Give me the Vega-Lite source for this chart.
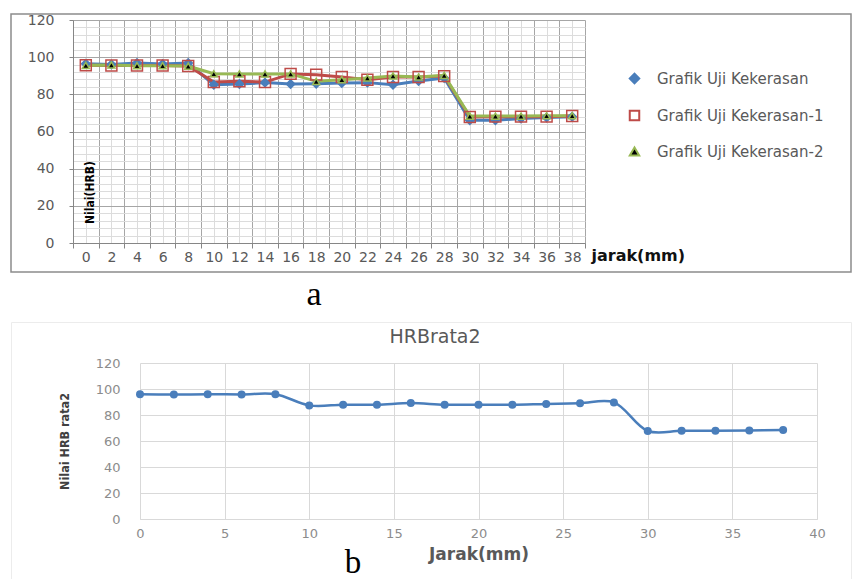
{
  "$schema": "https://vega.github.io/schema/vega-lite/v6.json",
  "padding": {"left": 10, "top": 12, "right": 0, "bottom": 0},
  "background": "white",
  "bounds": "flush",
  "spacing": 50,
  "title": {"text": "b", "orient": "bottom", "anchor": "middle", "font": "Liberation Serif", "fontSize": 33, "fontWeight": "normal", "color": "#000000", "baseline": "alphabetic", "offset": -8, "dx": -78},
  "datasets": {
    "uji": [
      {"jarak": 0, "seri": "Grafik Uji Kekerasan", "nilai": 96.5},
      {"jarak": 2, "seri": "Grafik Uji Kekerasan", "nilai": 96},
      {"jarak": 4, "seri": "Grafik Uji Kekerasan", "nilai": 96.8},
      {"jarak": 6, "seri": "Grafik Uji Kekerasan", "nilai": 96.3},
      {"jarak": 8, "seri": "Grafik Uji Kekerasan", "nilai": 96.8},
      {"jarak": 10, "seri": "Grafik Uji Kekerasan", "nilai": 85.2},
      {"jarak": 12, "seri": "Grafik Uji Kekerasan", "nilai": 85.5},
      {"jarak": 14, "seri": "Grafik Uji Kekerasan", "nilai": 86.3},
      {"jarak": 16, "seri": "Grafik Uji Kekerasan", "nilai": 85.6},
      {"jarak": 18, "seri": "Grafik Uji Kekerasan", "nilai": 85.7},
      {"jarak": 20, "seri": "Grafik Uji Kekerasan", "nilai": 86.1},
      {"jarak": 22, "seri": "Grafik Uji Kekerasan", "nilai": 86.3},
      {"jarak": 24, "seri": "Grafik Uji Kekerasan", "nilai": 85.2},
      {"jarak": 26, "seri": "Grafik Uji Kekerasan", "nilai": 87.2},
      {"jarak": 28, "seri": "Grafik Uji Kekerasan", "nilai": 88.8},
      {"jarak": 30, "seri": "Grafik Uji Kekerasan", "nilai": 66},
      {"jarak": 32, "seri": "Grafik Uji Kekerasan", "nilai": 66},
      {"jarak": 34, "seri": "Grafik Uji Kekerasan", "nilai": 67},
      {"jarak": 36, "seri": "Grafik Uji Kekerasan", "nilai": 67.5},
      {"jarak": 38, "seri": "Grafik Uji Kekerasan", "nilai": 68},
      {"jarak": 0, "seri": "Grafik Uji Kekerasan-1", "nilai": 95.6},
      {"jarak": 2, "seri": "Grafik Uji Kekerasan-1", "nilai": 95.5},
      {"jarak": 4, "seri": "Grafik Uji Kekerasan-1", "nilai": 95.5},
      {"jarak": 6, "seri": "Grafik Uji Kekerasan-1", "nilai": 95.5},
      {"jarak": 8, "seri": "Grafik Uji Kekerasan-1", "nilai": 95.3},
      {"jarak": 10, "seri": "Grafik Uji Kekerasan-1", "nilai": 86.6},
      {"jarak": 12, "seri": "Grafik Uji Kekerasan-1", "nilai": 87},
      {"jarak": 14, "seri": "Grafik Uji Kekerasan-1", "nilai": 86.6},
      {"jarak": 16, "seri": "Grafik Uji Kekerasan-1", "nilai": 91},
      {"jarak": 18, "seri": "Grafik Uji Kekerasan-1", "nilai": 90.6},
      {"jarak": 20, "seri": "Grafik Uji Kekerasan-1", "nilai": 89.3},
      {"jarak": 22, "seri": "Grafik Uji Kekerasan-1", "nilai": 87.9},
      {"jarak": 24, "seri": "Grafik Uji Kekerasan-1", "nilai": 89.3},
      {"jarak": 26, "seri": "Grafik Uji Kekerasan-1", "nilai": 89.3},
      {"jarak": 28, "seri": "Grafik Uji Kekerasan-1", "nilai": 89.8},
      {"jarak": 30, "seri": "Grafik Uji Kekerasan-1", "nilai": 67.8},
      {"jarak": 32, "seri": "Grafik Uji Kekerasan-1", "nilai": 68},
      {"jarak": 34, "seri": "Grafik Uji Kekerasan-1", "nilai": 68},
      {"jarak": 36, "seri": "Grafik Uji Kekerasan-1", "nilai": 68},
      {"jarak": 38, "seri": "Grafik Uji Kekerasan-1", "nilai": 68.3},
      {"jarak": 0, "seri": "Grafik Uji Kekerasan-2", "nilai": 95.6},
      {"jarak": 2, "seri": "Grafik Uji Kekerasan-2", "nilai": 95.8},
      {"jarak": 4, "seri": "Grafik Uji Kekerasan-2", "nilai": 95.4},
      {"jarak": 6, "seri": "Grafik Uji Kekerasan-2", "nilai": 95.4},
      {"jarak": 8, "seri": "Grafik Uji Kekerasan-2", "nilai": 95.2},
      {"jarak": 10, "seri": "Grafik Uji Kekerasan-2", "nilai": 91.1},
      {"jarak": 12, "seri": "Grafik Uji Kekerasan-2", "nilai": 91},
      {"jarak": 14, "seri": "Grafik Uji Kekerasan-2", "nilai": 91},
      {"jarak": 16, "seri": "Grafik Uji Kekerasan-2", "nilai": 91},
      {"jarak": 18, "seri": "Grafik Uji Kekerasan-2", "nilai": 87},
      {"jarak": 20, "seri": "Grafik Uji Kekerasan-2", "nilai": 87.9},
      {"jarak": 22, "seri": "Grafik Uji Kekerasan-2", "nilai": 88.8},
      {"jarak": 24, "seri": "Grafik Uji Kekerasan-2", "nilai": 89.9},
      {"jarak": 26, "seri": "Grafik Uji Kekerasan-2", "nilai": 89.3},
      {"jarak": 28, "seri": "Grafik Uji Kekerasan-2", "nilai": 90.2},
      {"jarak": 30, "seri": "Grafik Uji Kekerasan-2", "nilai": 68.3},
      {"jarak": 32, "seri": "Grafik Uji Kekerasan-2", "nilai": 68.3},
      {"jarak": 34, "seri": "Grafik Uji Kekerasan-2", "nilai": 68.3},
      {"jarak": 36, "seri": "Grafik Uji Kekerasan-2", "nilai": 68.5},
      {"jarak": 38, "seri": "Grafik Uji Kekerasan-2", "nilai": 68.5}
    ],
    "rata": [
      {"jarak": 0, "rata": 95.9},
      {"jarak": 2, "rata": 95.7},
      {"jarak": 4, "rata": 96},
      {"jarak": 6, "rata": 95.8},
      {"jarak": 8, "rata": 96},
      {"jarak": 10, "rata": 87.4},
      {"jarak": 12, "rata": 87.9},
      {"jarak": 14, "rata": 87.9},
      {"jarak": 16, "rata": 89.2},
      {"jarak": 18, "rata": 87.9},
      {"jarak": 20, "rata": 87.9},
      {"jarak": 22, "rata": 87.9},
      {"jarak": 24, "rata": 88.5},
      {"jarak": 26, "rata": 89},
      {"jarak": 28, "rata": 89.7},
      {"jarak": 30, "rata": 67.7},
      {"jarak": 32, "rata": 67.9},
      {"jarak": 34, "rata": 67.9},
      {"jarak": 36, "rata": 68},
      {"jarak": 38, "rata": 68.5}
    ]
  },
  "vconcat": [
    {
      "width": 840,
      "height": 258,
      "view": {"stroke": "#8c8c8c", "strokeWidth": 1.5},
      "title": {"text": "a", "orient": "bottom", "anchor": "middle", "frame": "group", "font": "Liberation Serif", "fontSize": 34, "fontWeight": "normal", "color": "#000000", "baseline": "alphabetic", "offset": 33, "dx": -117},
      "data": {"name": "uji"},
      "resolve": {"axis": {"x": "independent"}},
      "encoding": {
        "y": {
          "field": "nilai", "type": "quantitative",
          "scale": {"domain": [0, 120], "range": [229, 6], "nice": false},
          "axis": {
            "offset": -62,
            "values": [0,4,8,12,16,20,24,28,32,36,40,44,48,52,56,60,64,68,72,76,80,84,88,92,96,100,104,108,112,116,120],
            "grid": true,
            "gridColor": {"condition": {"test": "datum.value % 20 === 0", "value": "#a6a6a6"}, "value": "#dcdcdc"},
            "domain": true, "domainColor": "#868686",
            "ticks": true, "tickSize": 4, "tickColor": "#868686",
            "tickOpacity": {"condition": {"test": "datum.value % 20 === 0", "value": 1}, "value": 0},
            "labelExpr": "datum.value % 20 === 0 ? datum.label : ''",
            "labelFont": "DejaVu Sans", "labelFontSize": 14, "labelColor": "#595959",
            "labelPadding": 15, "labelOverlap": false, "labelFlush": false,
            "title": "Nilai(HRB)", "titleFont": "Liberation Sans Narrow, DejaVu Sans Condensed, sans-serif", "titleFontWeight": "bold", "titleFontSize": 12, "titleColor": "#000000",
            "titleX": 16, "titleY": 178, "titleAngle": 270, "titleBaseline": "middle", "titleAlign": "center"
          }
        }
      },
      "layer": [
        {
          "mark": {"type": "line", "strokeWidth": 3},
          "encoding": {
            "x": {
              "field": "jarak", "type": "quantitative",
              "scale": {"domain": [-1, 39], "range": [62, 574], "nice": false, "zero": false},
              "axis": {
                "orient": "top",
                "values": [-1,0,1,2,3,4,5,6,7,8,9,10,11,12,13,14,15,16,17,18,19,20,21,22,23,24,25,26,27,28,29,30,31,32,33,34,35,36,37,38,39],
                "grid": true,
                "gridColor": {"condition": {"test": "datum.value % 2 !== 0", "value": "#a6a6a6"}, "value": "#dcdcdc"},
                "domain": false, "ticks": false, "labels": false, "title": null
              }
            },
            "detail": {"field": "seri", "type": "nominal"},
            "color": {
              "condition": [
                {"test": "datum.seri === 'Grafik Uji Kekerasan'", "value": "#4A7EBB"},
                {"test": "datum.seri === 'Grafik Uji Kekerasan-1'", "value": "#BE4B48"}
              ],
              "value": "#98B954"
            }
          }
        },
        {
          "mark": {"type": "point", "opacity": 1, "strokeWidth": 1.5},
          "encoding": {
            "x": {
              "field": "jarak", "type": "quantitative",
              "axis": {
                "orient": "bottom",
                "offset": -29,
                "values": [-1,0,1,2,3,4,5,6,7,8,9,10,11,12,13,14,15,16,17,18,19,20,21,22,23,24,25,26,27,28,29,30,31,32,33,34,35,36,37,38,39],
                "grid": false,
                "domain": true, "domainColor": "#868686", "domainWidth": 1,
                "ticks": true, "tickSize": 5, "tickColor": "#868686",
                "tickOpacity": {"condition": {"test": "datum.value % 2 !== 0", "value": 1}, "value": 0},
                "labelExpr": "datum.value % 2 === 0 ? datum.label : ''",
                "labelFont": "DejaVu Sans", "labelFontSize": 14, "labelColor": "#595959",
                "labelPadding": 2, "labelFlush": false, "labelOverlap": false,
                "title": "jarak(mm)", "titleFont": "DejaVu Sans", "titleFontWeight": "bold", "titleFontSize": 16, "titleColor": "#111111",
                "titleX": 580, "titleY": 12, "titleAlign": "left", "titleBaseline": "middle", "titleAngle": 0
              }
            },
            "shape": {
              "field": "seri", "type": "nominal",
              "scale": {"range": ["diamond", "square", "triangle-up"]},
              "legend": {
                "title": null, "orient": "none", "direction": "vertical",
                "legendX": 616, "legendY": 57, "padding": 0,
                "symbolSize": 90, "symbolStrokeWidth": 2,
                "labelOffset": 15, "rowPadding": 18, "labelLimit": 300,
                "labelFont": "DejaVu Sans", "labelFontSize": 15, "labelColor": "#595959"
              }
            },
            "fill": {
              "field": "seri", "type": "nominal",
              "scale": {"range": ["#4A7EBB", "transparent", "#000000"]},
              "legend": {
                "title": null, "orient": "none", "direction": "vertical",
                "legendX": 616, "legendY": 57, "padding": 0,
                "symbolSize": 90, "symbolStrokeWidth": 2,
                "labelOffset": 15, "rowPadding": 18, "labelLimit": 300,
                "labelFont": "DejaVu Sans", "labelFontSize": 15, "labelColor": "#595959"
              }
            },
            "stroke": {
              "field": "seri", "type": "nominal",
              "scale": {"range": ["#4A7EBB", "#BE4B48", "#98B954"]},
              "legend": {
                "title": null, "orient": "none", "direction": "vertical",
                "legendX": 616, "legendY": 57, "padding": 0,
                "symbolSize": 90, "symbolStrokeWidth": 2,
                "labelOffset": 15, "rowPadding": 18, "labelLimit": 300,
                "labelFont": "DejaVu Sans", "labelFontSize": 15, "labelColor": "#595959"
              }
            },
            "size": {
              "condition": [
                {"test": "datum.seri === 'Grafik Uji Kekerasan'", "value": 70},
                {"test": "datum.seri === 'Grafik Uji Kekerasan-1'", "value": 120}
              ],
              "value": 50
            }
          }
        }
      ]
    },
    {
      "width": 840,
      "height": 258,
      "view": {"stroke": "#ececec", "strokeWidth": 1},
      "title": {"text": "HRBrata2", "orient": "top", "anchor": "middle", "frame": "group", "offset": -22, "dx": 4, "dy": 18, "font": "DejaVu Sans", "fontSize": 19, "fontWeight": "normal", "color": "#595959", "baseline": "alphabetic"},
      "data": {"name": "rata"},
      "resolve": {"axis": {"x": "independent"}},
      "encoding": {
        "y": {
          "field": "rata", "type": "quantitative",
          "scale": {"domain": [0, 120], "range": [197, 41], "nice": false},
          "axis": {
            "offset": -129,
            "values": [0, 20, 40, 60, 80, 100, 120],
            "grid": true, "gridColor": "#d9d9d9",
            "domain": false, "ticks": false,
            "labelFont": "DejaVu Sans", "labelFontSize": 13, "labelColor": "#8c8c8c",
            "labelPadding": 20, "labelFlush": false,
            "title": "Nilai HRB rata2", "titleFont": "Liberation Sans Narrow, DejaVu Sans Condensed, sans-serif", "titleFontWeight": "bold", "titleFontSize": 12.5, "titleColor": "#404040",
            "titleX": -76, "titleY": 119, "titleAngle": 270, "titleBaseline": "middle", "titleAlign": "center"
          }
        }
      },
      "layer": [
        {
          "mark": {"type": "line", "strokeWidth": 2.5, "color": "#4A7EBB", "interpolate": "catmull-rom"},
          "encoding": {
            "x": {
              "field": "jarak", "type": "quantitative",
              "scale": {"domain": [0, 40], "range": [129, 806], "nice": false, "zero": false},
              "axis": {
                "orient": "top",
                "values": [0, 5, 10, 15, 20, 25, 30, 35, 40],
                "grid": true, "gridColor": "#d9d9d9",
                "domain": false, "ticks": false, "labels": false, "title": null
              }
            }
          }
        },
        {
          "mark": {"type": "circle", "size": 64, "color": "#4A7EBB", "opacity": 1},
          "encoding": {
            "x": {
              "field": "jarak", "type": "quantitative",
              "axis": {
                "orient": "bottom",
                "offset": -61,
                "values": [0, 5, 10, 15, 20, 25, 30, 35, 40],
                "grid": false,
                "domain": true, "domainColor": "#d9d9d9",
                "ticks": false,
                "labelFont": "DejaVu Sans", "labelFontSize": 13, "labelColor": "#8c8c8c",
                "labelPadding": 8, "labelFlush": false,
                "title": "Jarak(mm)", "titleFont": "DejaVu Sans", "titleFontWeight": "bold", "titleFontSize": 17, "titleColor": "#595959",
                "titleY": 35, "titleBaseline": "middle"
              }
            }
          }
        }
      ]
    }
  ]
}
